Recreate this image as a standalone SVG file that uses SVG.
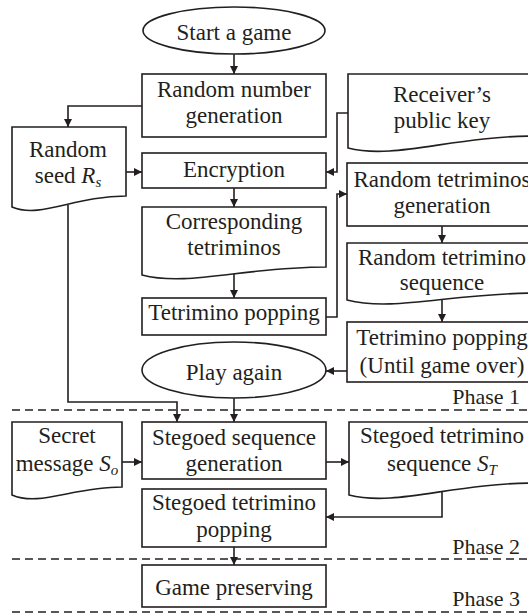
<svg xmlns="http://www.w3.org/2000/svg" width="528" height="615" viewBox="0 0 528 615">
  <style>
    .shape { fill: #ffffff; stroke: #231f20; stroke-width: 1.6; }
    .wire { fill: none; stroke: #231f20; stroke-width: 1.6; }
    .arrow { marker-end: url(#head); }
    .phase { fill: none; stroke: #231f20; stroke-width: 1.4; stroke-dasharray: 8 5; }
    text { font-family: "Liberation Serif", "Times New Roman", serif; font-size: 23px; fill: #231f20; text-anchor: middle; }
    .ptext { font-size: 22px; text-anchor: end; }
    .it { font-style: italic; }
    .sub { font-style: italic; font-size: 15px; }
  </style>
  <defs>
    <marker id="head" viewBox="0 0 10 10" refX="10" refY="5" markerWidth="9" markerHeight="8" markerUnits="userSpaceOnUse" orient="auto">
      <path d="M0,0 L10,5 L0,10 z" fill="#231f20"/>
    </marker>
  </defs>

  <!-- connectors -->
  <g id="connectors">
    <path class="wire arrow" d="M234,54 V74"/>
    <path class="wire arrow" d="M142,106 H68 V127"/>
    <path class="wire arrow" d="M126,172 H142"/>
    <path class="wire arrow" d="M348,113 H337 V172 H326"/>
    <path class="wire arrow" d="M234,188 V207"/>
    <path class="wire arrow" d="M234,270 V298"/>
    <path class="wire arrow" d="M326,317 H337 V194 H347"/>
    <path class="wire arrow" d="M442,226 V243"/>
    <path class="wire arrow" d="M442,300 V322"/>
    <path class="wire arrow" d="M347,371 H326"/>
    <path class="wire arrow" d="M234,398 V422"/>
    <path class="wire arrow" d="M68,205 V402 H177 V422"/>
    <path class="wire arrow" d="M122,462 H142"/>
    <path class="wire arrow" d="M326,462 H349"/>
    <path class="wire arrow" d="M442,490 V517 H326"/>
    <path class="wire arrow" d="M234,547 V565"/>
  </g>

  <!-- phase separators -->
  <g id="phases">
    <path class="phase" d="M12,410 H528"/>
    <text class="ptext" x="520" y="404">Phase 1</text>
    <path class="phase" d="M12,559 H528"/>
    <text class="ptext" x="520" y="554">Phase 2</text>
    <path class="phase" d="M12,612 H528"/>
    <text class="ptext" x="520" y="606">Phase 3</text>
  </g>

  <g id="start">
    <ellipse class="shape" cx="234" cy="30.5" rx="91" ry="23.5"/>
    <text x="234" y="40">Start a game</text>
  </g>

  <g id="rng">
    <rect class="shape" x="142" y="74" width="184" height="63"/>
    <text x="234" y="97">Random number</text>
    <text x="234" y="123">generation</text>
  </g>

  <g id="seed">
    <path class="shape" d="M12,127 H126 V196 C74.7,196 40.5,219 12,207 Z"/>
    <text x="68" y="157">Random</text>
    <text x="68" y="183">seed <tspan class="it">R</tspan><tspan class="sub" dy="4">s</tspan></text>
  </g>

  <g id="pubkey">
    <path class="shape" d="M348,74 H537 V136 C452,136 395,160 348,148 Z"/>
    <text x="442" y="102">Receiver’s</text>
    <text x="442" y="128">public key</text>
  </g>

  <g id="encryption">
    <rect class="shape" x="142" y="153" width="184" height="35"/>
    <text x="234" y="177">Encryption</text>
  </g>

  <g id="randgen">
    <rect class="shape" x="347" y="163" width="190" height="63"/>
    <text x="442" y="187">Random tetriminos</text>
    <text x="442" y="213">generation</text>
  </g>

  <g id="corresponding">
    <path class="shape" d="M142,207 H326 V267 C243,267 188,287 142,275 Z"/>
    <text x="234" y="229">Corresponding</text>
    <text x="234" y="255">tetriminos</text>
  </g>

  <g id="randseq">
    <path class="shape" d="M347,243 H537 V293 C451,293 394,312 347,300 Z"/>
    <text x="442" y="265">Random tetrimino</text>
    <text x="442" y="290">sequence</text>
  </g>

  <g id="popping">
    <rect class="shape" x="142" y="298" width="184" height="37"/>
    <text x="234" y="320">Tetrimino popping</text>
  </g>

  <g id="popover">
    <rect class="shape" x="347" y="322" width="190" height="60"/>
    <text x="442" y="345">Tetrimino popping</text>
    <text x="442" y="373">(Until game over)</text>
  </g>

  <g id="again">
    <ellipse class="shape" cx="234" cy="370" rx="92" ry="28"/>
    <text x="234" y="380">Play again</text>
  </g>

  <g id="secret">
    <path class="shape" d="M12,422 H122 V487 C72.5,487 39.5,507 12,495 Z"/>
    <text x="67" y="443">Secret</text>
    <text x="67" y="471">message <tspan class="it">S</tspan><tspan class="sub" dy="4">o</tspan></text>
  </g>

  <g id="stegogen">
    <rect class="shape" x="142" y="422" width="184" height="57"/>
    <text x="234" y="445">Stegoed sequence</text>
    <text x="234" y="471">generation</text>
  </g>

  <g id="stegoseq">
    <path class="shape" d="M349,422 H537 V483 C452,483 396,507 349,495 Z"/>
    <text x="442" y="443">Stegoed tetrimino</text>
    <text x="442" y="471">sequence <tspan class="it">S</tspan><tspan class="sub" dy="4">T</tspan></text>
  </g>

  <g id="stegopop">
    <rect class="shape" x="142" y="489" width="184" height="58"/>
    <text x="234" y="510">Stegoed tetrimino</text>
    <text x="234" y="537">popping</text>
  </g>

  <g id="preserve">
    <rect class="shape" x="142" y="565" width="184" height="42"/>
    <text x="234" y="595">Game preserving</text>
  </g>
</svg>
